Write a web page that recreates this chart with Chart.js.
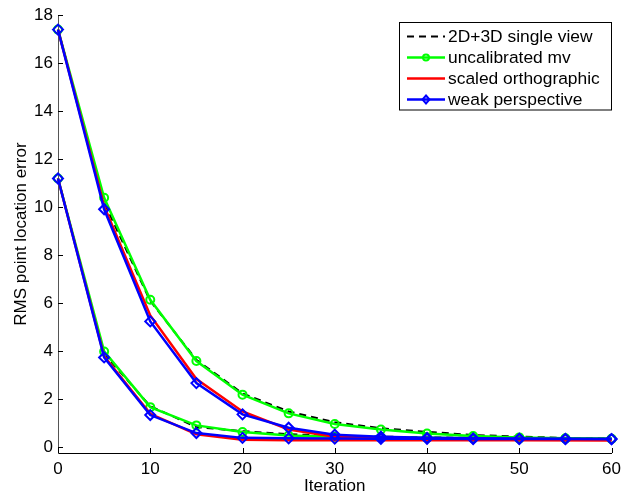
<!DOCTYPE html>
<html>
<head>
<meta charset="utf-8">
<script src="https://cdn.jsdelivr.net/npm/chart.js@4"></script>
<style>
  html, body { margin: 0; padding: 0; background: #fff; }
  canvas { display: block; }
</style>
</head>
<body>
<canvas id="c" width="627" height="494"></canvas>
<script>
// --- data ---
const iterations = [0, 5, 10, 15, 20, 25, 30, 35, 40, 45, 50, 55, 60];
const xTicks = [0, 10, 20, 30, 40, 50, 60];
const yTicks = [0, 2, 4, 6, 8, 10, 12, 14, 16, 18];
const names = ['2D+3D single view', 'uncalibrated mv', 'scaled orthographic', 'weak perspective'];

// upper group (starts at 17.4)
const singleHi = [17.4, 10.2, 6.1, 3.65, 2.25, 1.5, 1.05, 0.8, 0.65, 0.52, 0.45, 0.4, 0.37];
const uncalHi  = [17.4, 10.4, 6.15, 3.6, 2.2, 1.42, 0.98, 0.75, 0.58, 0.48, 0.42, 0.38, 0.36];
const orthoHi  = [17.4, 10.05, 5.5, 2.85, 1.5, 0.75, 0.45, 0.38, 0.35, 0.33, 0.32, 0.31, 0.3];
const weakHi   = [17.4, 9.92, 5.25, 2.68, 1.38, 0.82, 0.53, 0.45, 0.4, 0.38, 0.37, 0.36, 0.35];

// lower group (starts at 11.2)
const singleLo = [11.2, 3.9, 1.72, 0.85, 0.68, 0.55, 0.5, 0.45, 0.42, 0.4, 0.38, 0.37, 0.36];
const uncalLo  = [11.2, 4.0, 1.68, 0.92, 0.64, 0.5, 0.45, 0.42, 0.4, 0.38, 0.37, 0.36, 0.35];
const orthoLo  = [11.2, 3.8, 1.4, 0.55, 0.32, 0.3, 0.3, 0.3, 0.3, 0.3, 0.3, 0.3, 0.3];
const weakLo   = [11.2, 3.75, 1.35, 0.6, 0.4, 0.38, 0.37, 0.36, 0.36, 0.35, 0.35, 0.35, 0.35];

const FONT = '"Liberation Sans", Arial, Helvetica, sans-serif';

const styles = [
  { color: '#000000', dash: [7, 5], width: 2, point: false, radius: 0, order: 4 },
  { color: '#00ff00', dash: [], width: 2.5, point: 'circle', radius: 4, order: 3 },
  { color: '#ff0000', dash: [], width: 2.5, point: false, radius: 0, order: 2 },
  { color: '#0000ff', dash: [], width: 2.5, point: 'rectRot', radius: 5, order: 1 }
];

function pts(arr) { return iterations.map((x, i) => ({ x: x, y: arr[i] })); }

function mk(arr, s) {
  return {
    data: pts(arr),
    borderColor: s.color,
    borderWidth: s.width,
    borderDash: s.dash,
    pointStyle: s.point || 'circle',
    pointRadius: s.radius,
    pointBorderColor: s.color,
    pointBackgroundColor: 'rgba(0,0,0,0)',
    pointBorderWidth: 2,
    tension: 0,
    fill: false,
    clip: false,
    order: s.order
  };
}

const groups = [[singleHi, uncalHi, orthoHi, weakHi], [singleLo, uncalLo, orthoLo, weakLo]];
const datasets = [];
groups.forEach(g => g.forEach((arr, k) => datasets.push(mk(arr, styles[k]))));

// inward ticks like matlab
const tickMarks = {
  id: 'tickMarks',
  afterDatasetsDraw(chart) {
    const ctx = chart.ctx, xs = chart.scales.x, ys = chart.scales.y;
    const a = chart.chartArea;
    ctx.save();
    ctx.strokeStyle = '#000';
    ctx.lineWidth = 1;
    ctx.beginPath();
    xTicks.forEach(v => {
      const px = Math.round(xs.getPixelForValue(v)) + 0.5;
      ctx.moveTo(px, a.bottom); ctx.lineTo(px, a.bottom - 5);
    });
    yTicks.forEach(v => {
      const py = Math.round(ys.getPixelForValue(v)) + 0.5;
      ctx.moveTo(a.left, py); ctx.lineTo(a.left + 5, py);
    });
    ctx.stroke();
    ctx.restore();
  }
};

// legend box, drawn by hand so the marker sits on the line
const legendBox = {
  id: 'legendBox',
  afterDraw(chart) {
    const ctx = chart.ctx;
    const bx = 399.5, by = 22.5, bw = 212, bh = 87.5;
    ctx.save();
    ctx.fillStyle = '#fff';
    ctx.fillRect(bx, by, bw, bh);
    ctx.strokeStyle = '#000';
    ctx.lineWidth = 1;
    ctx.strokeRect(bx, by, bw, bh);
    ctx.font = '17.4px ' + FONT;
    ctx.textBaseline = 'middle';
    ctx.textAlign = 'left';
    names.forEach((n, i) => {
      const s = styles[i];
      const y = 36.5 + i * 21;
      ctx.strokeStyle = s.color;
      ctx.lineWidth = s.width;
      ctx.setLineDash(s.dash);
      ctx.beginPath();
      ctx.moveTo(407, y); ctx.lineTo(445, y);
      ctx.stroke();
      ctx.setLineDash([]);
      if (s.point) {
        ctx.lineWidth = 2;
        ctx.beginPath();
        if (s.point === 'circle') {
          ctx.arc(426, y, 3, 0, Math.PI * 2);
        } else {
          ctx.moveTo(426, y - 4); ctx.lineTo(429.5, y); ctx.lineTo(426, y + 4); ctx.lineTo(422.5, y); ctx.closePath();
        }
        ctx.stroke();
      }
      ctx.fillStyle = '#000';
      ctx.fillText(n, 448, y + 1);
    });
    ctx.restore();
  }
};

new Chart(document.getElementById('c'), {
  type: 'line',
  data: { datasets: datasets },
  options: {
    responsive: false,
    animation: false,
    devicePixelRatio: 1,
    events: [],
    layout: { padding: { left: 0, right: 11, top: 14, bottom: 0 } },
    plugins: { legend: { display: false }, tooltip: { enabled: false } },
    scales: {
      x: {
        type: 'linear',
        min: 0, max: 60,
        afterBuildTicks: s => { s.ticks = xTicks.map(v => ({ value: v })); },
        afterFit: s => { s.height = 41; },
        grid: { display: false, drawTicks: false },
        border: { display: true, color: '#000', width: 1 },
        ticks: { color: '#000', padding: 6, maxRotation: 0, font: { family: FONT, size: 17 } },
        title: { display: true, text: 'Iteration', color: '#000', padding: { top: 0, bottom: -3 }, font: { family: FONT, size: 17 } }
      },
      y: {
        type: 'linear',
        min: -0.23, max: 18,
        afterBuildTicks: s => { s.ticks = yTicks.map(v => ({ value: v })); },
        afterFit: s => { s.width = 58; },
        grid: { display: false, drawTicks: false },
        border: { display: true, color: '#555', width: 1 },
        ticks: { color: '#000', padding: 5, font: { family: FONT, size: 17 } },
        title: { display: true, text: 'RMS point location error', color: '#000', padding: { top: 11, bottom: 0 }, font: { family: FONT, size: 17 } }
      }
    }
  },
  plugins: [tickMarks, legendBox]
});
</script>
</body>
</html>
